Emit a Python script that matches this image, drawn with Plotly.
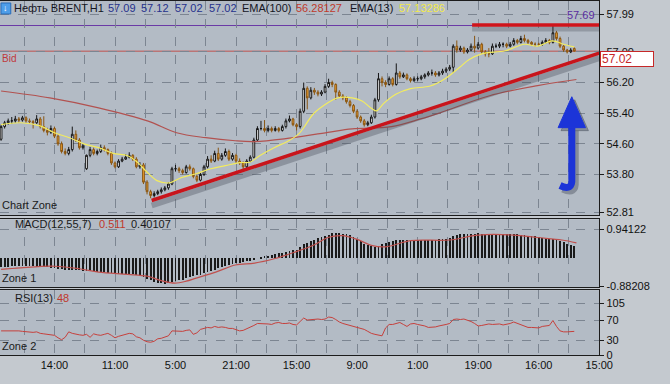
import plotly.graph_objects as go

# ---------------- data ----------------
opens = [54.72, 55.05, 55.15, 55.20, 55.20, 55.25, 55.22, 55.28, 55.20, 55.18,
         55.15, 55.25, 55.05, 54.95, 54.90, 55.00, 54.80, 54.60, 54.40, 54.35,
         54.45, 54.85, 54.70, 54.50, 53.95, 54.30, 54.45, 54.35, 54.40, 54.50,
         54.45, 54.35, 54.10, 54.00, 54.15, 54.20, 54.25, 54.30, 54.20, 54.00,
         54.05, 53.60, 53.35, 53.25, 53.30, 53.35, 53.40, 53.45, 53.55, 53.95,
         53.95, 53.90, 53.85, 54.00, 53.95, 53.75, 53.65, 53.80, 54.00, 54.20,
         54.15, 54.35, 54.20, 54.30, 54.40, 54.20, 54.30, 54.15, 54.10, 54.00,
         54.15, 54.25, 54.70, 55.00, 55.00, 54.95, 55.00, 54.95, 55.00, 54.95,
         55.05, 55.20, 55.25, 55.10, 55.05, 55.45, 56.05, 55.80, 56.00, 55.95,
         55.90, 55.95, 56.10, 56.20, 56.15, 55.95, 55.85, 55.80, 55.70, 55.60,
         55.45, 55.30, 55.20, 55.10, 55.15, 55.30, 55.75, 56.30, 56.20, 56.15,
         56.30, 56.15, 56.45, 56.35, 56.40, 56.30, 56.25, 56.30, 56.30, 56.35,
         56.40, 56.45, 56.45, 56.40, 56.45, 56.50, 56.55, 56.60, 57.15, 57.05,
         57.10, 57.00, 57.05, 57.15, 57.10, 57.20, 57.00, 56.95, 56.95, 57.15,
         57.15, 57.20, 57.20, 57.15, 57.20, 57.30, 57.25, 57.35, 57.30, 57.25,
         57.20, 57.20, 57.20, 57.25, 57.30, 57.25, 57.50, 57.35, 57.15, 57.05,
         57.00, 57.09]
highs = [55.10, 55.20, 55.26, 55.30, 55.33, 55.30, 55.33, 55.32, 55.26, 55.22,
         55.35, 55.30, 55.32, 55.02, 55.08, 55.05, 54.85, 54.66, 54.48, 54.52,
         55.05, 54.95, 54.75, 54.60, 54.32, 54.52, 54.50, 54.45, 54.58, 54.56,
         54.48, 54.40, 54.14, 54.20, 54.26, 54.33, 54.38, 54.33, 54.25, 54.12,
         54.10, 53.65, 53.40, 53.36, 53.40, 53.46, 53.50, 53.60, 54.00, 54.05,
         54.00, 53.95, 54.05, 54.06, 53.98, 53.80, 53.86, 54.05, 54.28, 54.30,
         54.42, 54.50, 54.36, 54.48, 54.45, 54.36, 54.34, 54.22, 54.14, 54.20,
         54.30, 54.76, 55.06, 55.20, 55.22, 55.08, 55.05, 55.06, 55.04, 55.10,
         55.26, 55.34, 55.28, 55.14, 55.52, 56.20, 56.10, 56.08, 56.06, 56.00,
         56.00, 56.16, 56.30, 56.25, 56.18, 56.00, 55.90, 55.84, 55.75, 55.64,
         55.50, 55.34, 55.25, 55.20, 55.36, 55.80, 56.45, 56.36, 56.26, 56.36,
         56.34, 56.70, 56.50, 56.46, 56.44, 56.34, 56.36, 56.36, 56.40, 56.44,
         56.50, 56.54, 56.50, 56.50, 56.56, 56.60, 56.66, 57.20, 57.30, 57.16,
         57.14, 57.10, 57.22, 57.42, 57.26, 57.24, 57.05, 57.10, 57.22, 57.22,
         57.26, 57.25, 57.24, 57.26, 57.36, 57.34, 57.42, 57.45, 57.34, 57.28,
         57.25, 57.24, 57.30, 57.36, 57.34, 57.69, 57.55, 57.40, 57.18, 57.08,
         57.10, 57.12]
lows = [54.68, 55.00, 55.10, 55.12, 55.15, 55.15, 55.18, 55.15, 55.12, 55.00,
        55.12, 55.00, 54.90, 54.82, 54.86, 54.75, 54.55, 54.35, 54.30, 54.30,
        54.40, 54.65, 54.45, 54.45, 53.92, 54.25, 54.30, 54.30, 54.36, 54.40,
        54.30, 54.05, 53.96, 53.97, 54.12, 54.18, 54.22, 54.15, 53.96, 53.95,
        53.55, 53.28, 53.18, 53.20, 53.26, 53.30, 53.36, 53.40, 53.52, 53.88,
        53.84, 53.80, 53.82, 53.90, 53.70, 53.60, 53.62, 53.76, 53.96, 54.10,
        54.12, 54.15, 54.16, 54.26, 54.15, 54.16, 54.10, 54.05, 53.92, 53.96,
        54.12, 54.22, 54.66, 54.95, 54.90, 54.90, 54.90, 54.92, 54.90, 54.92,
        55.00, 55.16, 55.06, 54.95, 55.00, 55.40, 55.50, 55.76, 55.88, 55.84,
        55.85, 55.92, 56.06, 56.08, 55.75, 55.80, 55.74, 55.65, 55.55, 55.40,
        55.25, 55.15, 55.05, 55.06, 55.12, 55.26, 55.70, 56.10, 56.08, 56.12,
        56.10, 56.12, 56.30, 56.32, 56.26, 56.20, 56.22, 56.24, 56.26, 56.30,
        56.36, 56.38, 56.35, 56.36, 56.40, 56.45, 56.50, 56.45, 56.98, 57.00,
        56.95, 56.96, 57.02, 56.98, 57.06, 56.95, 56.88, 56.86, 56.92, 57.10,
        57.10, 57.12, 57.10, 57.12, 57.16, 57.20, 57.22, 57.25, 57.20, 57.16,
        57.14, 57.15, 57.16, 57.22, 57.20, 57.22, 57.30, 57.10, 57.00, 56.96,
        56.97, 57.02]
closes = [55.05, 55.15, 55.20, 55.20, 55.25, 55.22, 55.28, 55.20, 55.18, 55.15,
          55.25, 55.05, 54.95, 54.90, 55.00, 54.80, 54.60, 54.40, 54.35, 54.45,
          54.85, 54.70, 54.50, 54.55, 54.30, 54.45, 54.35, 54.40, 54.50, 54.45,
          54.35, 54.10, 54.00, 54.15, 54.20, 54.25, 54.30, 54.20, 54.00, 54.05,
          53.60, 53.35, 53.25, 53.30, 53.35, 53.40, 53.45, 53.55, 53.95, 53.95,
          53.90, 53.85, 54.00, 53.95, 53.75, 53.65, 53.80, 54.00, 54.20, 54.15,
          54.35, 54.20, 54.30, 54.40, 54.20, 54.30, 54.15, 54.10, 54.00, 54.15,
          54.25, 54.70, 55.00, 55.00, 54.95, 55.00, 54.95, 55.00, 54.95, 55.05,
          55.20, 55.25, 55.10, 55.05, 55.45, 56.05, 55.80, 56.00, 55.95, 55.90,
          55.95, 56.10, 56.20, 56.15, 55.95, 55.85, 55.80, 55.70, 55.60, 55.45,
          55.30, 55.20, 55.10, 55.15, 55.30, 55.75, 56.30, 56.20, 56.15, 56.30,
          56.15, 56.45, 56.35, 56.40, 56.30, 56.25, 56.30, 56.30, 56.35, 56.40,
          56.45, 56.45, 56.40, 56.45, 56.50, 56.55, 56.60, 57.15, 57.05, 57.10,
          57.00, 57.05, 57.15, 57.10, 57.20, 57.00, 56.95, 56.95, 57.15, 57.15,
          57.20, 57.20, 57.15, 57.20, 57.30, 57.25, 57.35, 57.30, 57.25, 57.20,
          57.20, 57.20, 57.25, 57.30, 57.25, 57.50, 57.35, 57.15, 57.05, 57.00,
          57.05, 57.02]

ema13_x = [0, 5.5, 11, 15, 19.2, 23.3, 27.4, 31.5, 35.6, 38.4, 41.1, 43.8, 47.1,
           50.7, 54.8, 58.9, 63, 67.1, 69.9, 72.6, 76.7, 80.8, 83.6, 85, 87.7,
           91.8, 94.5, 98.6, 101.4, 104.1, 105.5, 107.4, 111, 115, 120.5, 124.7,
           128.8, 131.5, 135, 141.6, 147, 150.7, 154.8, 158, 161]
ema13_y = [55.10, 55.15, 55.07, 54.89, 54.76, 54.60, 54.50, 54.35, 54.29, 54.11,
           53.85, 53.64, 53.58, 53.72, 53.82, 53.95, 54.03, 54.11, 54.12, 54.29,
           54.50, 54.68, 54.86, 55.02, 55.38, 55.67, 55.80, 55.80, 55.72, 55.52,
           55.46, 55.65, 55.90, 56.04, 56.11, 56.30, 56.60, 56.80, 56.95, 57.03,
           57.20, 57.15, 57.29, 57.20, 57.13]
ema100_x = [0, 13.7, 27.4, 41.1, 49.3, 57.5, 65.8, 71.2, 79.5, 91.8, 98.6, 109.6,
            117.8, 123.3, 137, 150.7, 161.6]
ema100_y = [55.98, 55.80, 55.54, 55.20, 54.89, 54.76, 54.68, 54.66, 54.73, 54.90,
            54.99, 55.05, 55.25, 55.41, 55.85, 56.12, 56.28]

macd_hist = [-0.28, -0.27, -0.27, -0.26, -0.26, -0.25, -0.25, -0.25, -0.26, -0.26,
             -0.27, -0.27, -0.28, -0.29, -0.30,
             -0.31, -0.33, -0.35, -0.37, -0.38, -0.37, -0.37, -0.38, -0.40, -0.41,
             -0.41, -0.42, -0.43,
             -0.44, -0.45, -0.46, -0.48, -0.50, -0.50, -0.50, -0.50, -0.50, -0.51, -0.53,
             -0.56, -0.60, -0.66, -0.71, -0.75, -0.78, -0.80, -0.81, -0.80, -0.77,
             -0.74, -0.71, -0.68, -0.64, -0.61, -0.58, -0.55, -0.52, -0.48,
             -0.44, -0.40, -0.36, -0.32, -0.28, -0.25, -0.22, -0.19,
             -0.16, -0.14, -0.12, -0.10, -0.08, -0.04, 0.00,
             0.04, 0.07, 0.09, 0.12, 0.14, 0.16, 0.18, 0.21, 0.24, 0.26,
             0.28, 0.35, 0.45, 0.50, 0.55, 0.60, 0.64, 0.67, 0.71,
             0.76, 0.80, 0.81, 0.80, 0.79, 0.77, 0.74,
             0.68, 0.61, 0.54, 0.47, 0.42, 0.38, 0.36, 0.40,
             0.45, 0.50, 0.52, 0.55, 0.58, 0.58, 0.60, 0.60, 0.60,
             0.60, 0.59, 0.59, 0.59, 0.60, 0.60, 0.60, 0.61, 0.62, 0.63, 0.65,
             0.70, 0.74, 0.77, 0.78, 0.79, 0.79, 0.79, 0.80,
             0.79, 0.78, 0.78, 0.78, 0.78, 0.78, 0.78, 0.78, 0.78, 0.77, 0.77,
             0.76, 0.75, 0.73, 0.71, 0.70, 0.68, 0.66, 0.64,
             0.62, 0.62, 0.60, 0.56, 0.51, 0.46, 0.43, 0.40]
signal_x = [0, 5.5, 15, 22, 27.4, 35.6, 41, 45, 48.8, 52, 54.8, 60.3, 65.8, 71.2,
            76.7, 82.2, 87.7, 91.8, 95.9, 100, 104, 108, 115, 126, 134, 144, 150.7,
            157.5, 161.6]
signal_y = [-0.34, -0.29, -0.24, -0.32, -0.43, -0.50, -0.56, -0.70, -0.78, -0.72,
            -0.62, -0.43, -0.20, -0.14, 0.00, 0.20, 0.43, 0.68, 0.74, 0.62, 0.43,
            0.38, 0.58, 0.60, 0.76, 0.76, 0.68, 0.60, 0.51]

rsi = [49, 49, 49, 50, 49, 49, 48, 47, 47, 46,
       47, 44, 43, 42, 41, 40, 35, 31, 36, 47,
       44, 42, 41, 40, 42, 36, 43, 41, 40, 42,
       44, 40, 35, 38, 40, 42, 44, 43, 37, 35,
       30, 27, 26, 28, 33, 34, 36, 39, 49, 49,
       49, 48, 50, 51, 42, 45, 52, 54, 56, 55,
       58, 56, 57, 56, 54, 54, 52, 49, 50, 53,
       56, 60, 64, 64, 63, 63, 62, 65, 66, 64,
       64, 65, 62, 61, 68, 75, 71, 72, 72, 73,
       72, 73, 77, 76, 72, 67, 64, 62, 60, 58,
       57, 55, 52, 48, 44, 42, 40, 39, 55, 62,
       62, 64, 66, 62, 58, 63, 64, 62, 61, 59,
       56, 56, 57, 59, 60, 62, 64, 72, 73, 72,
       73, 71, 68, 64, 59, 60, 61, 63, 62, 62,
       63, 61, 62, 64, 67, 64, 61, 59, 56, 56,
       55, 55, 58, 59, 60, 70, 58, 49, 47, 47,
       47, 48]

support_x = [42.3, 168.0]
support_y = [53.12, 56.97]
resist_x = [132.3, 168.0]
resist_y = [57.70, 57.70]
bid_price = 57.02
high_price = 57.69

price_ticks = [57.99, 57.00, 56.20, 55.40, 54.60, 53.80, 52.81]
price_tick_text = ["57.99", "57.00", "56.20", "55.40", "54.60", "53.80", "52.81"]
macd_ticks = [0.94122, -0.88208]
macd_tick_text = ["0.94122", "-0.88208"]
rsi_ticks = [0, 30, 70, 105]
rsi_tick_text = ["0", "30", "70", "105"]
time_tick_vals = [15, 32, 49, 66, 83, 100, 117, 134, 151, 168]
time_tick_text = ["14:00", "11:00", "5:00", "21:00", "15:00", "9:00", "1:00", "19:00", "16:00", "15:00"]

# ---------------- figure ----------------
W, H = 670, 384
def px(x):
    return x / W
def py(y):
    return 1 - y / H

FONT = "Liberation Sans"
X_RANGE = [-0.3, 168.0]
XD = [0, 612 / W]
idx = list(range(len(closes)))

fig = go.Figure()

fig.add_trace(go.Scatter(x=ema100_x, y=ema100_y, mode="lines", xaxis="x", yaxis="y",
                         line=dict(color="#b25250", width=1.2, shape="spline"),
                         hoverinfo="skip", showlegend=False))
fig.add_trace(go.Candlestick(x=idx, open=opens, high=highs, low=lows, close=closes,
                             xaxis="x", yaxis="y", whiskerwidth=0,
                             increasing=dict(line=dict(color="#151515", width=1), fillcolor="#ffffff"),
                             decreasing=dict(line=dict(color="#8a5612", width=1), fillcolor="#f0a232"),
                             hoverinfo="skip", showlegend=False))
fig.add_trace(go.Scatter(x=ema13_x, y=ema13_y, mode="lines", xaxis="x", yaxis="y",
                         line=dict(color="#f3ec5e", width=1.2, shape="spline"),
                         hoverinfo="skip", showlegend=False))
# shadows of the drawn lines
fig.add_trace(go.Scatter(x=support_x, y=[v - 0.13 for v in support_y], mode="lines",
                         xaxis="x", yaxis="y", line=dict(color="rgba(70,75,85,0.35)", width=6),
                         hoverinfo="skip", showlegend=False))
fig.add_trace(go.Scatter(x=resist_x, y=[v - 0.1 for v in resist_y], mode="lines",
                         xaxis="x", yaxis="y", line=dict(color="rgba(70,75,85,0.3)", width=5),
                         hoverinfo="skip", showlegend=False))
fig.add_trace(go.Scatter(x=support_x, y=support_y, mode="lines", xaxis="x", yaxis="y",
                         line=dict(color="#c8141b", width=3.5), hoverinfo="skip", showlegend=False))
fig.add_trace(go.Scatter(x=resist_x, y=resist_y, mode="lines", xaxis="x", yaxis="y",
                         line=dict(color="#d0141b", width=3.5), hoverinfo="skip", showlegend=False))

fig.add_trace(go.Bar(x=idx, y=macd_hist, xaxis="x2", yaxis="y2", width=0.24,
                     marker=dict(color="#1a1a1a", line=dict(width=0)),
                     hoverinfo="skip", showlegend=False))
fig.add_trace(go.Scatter(x=signal_x, y=signal_y, mode="lines", xaxis="x2", yaxis="y2",
                         line=dict(color="#c0504d", width=1.2, shape="spline"),
                         hoverinfo="skip", showlegend=False))
fig.add_trace(go.Scatter(x=idx, y=rsi, mode="lines", xaxis="x3", yaxis="y3",
                         line=dict(color="#c6403c", width=1),
                         hoverinfo="skip", showlegend=False))

grid_vals = [6.5 + 8.5 * k for k in range(20)]
label_map = dict(zip(time_tick_vals, time_tick_text))
grid_text = [label_map.get(v, "") for v in grid_vals]

common_x = dict(domain=XD, range=X_RANGE, showgrid=True, gridcolor="#7c8591", griddash="dash",
                gridwidth=1, zeroline=False, showline=True, mirror=True, linecolor="#1c1c1c",
                linewidth=1, tickmode="array", tickvals=grid_vals, fixedrange=True)
common_y = dict(side="right", showgrid=True, gridcolor="#7c8591", griddash="dash", gridwidth=1,
                zeroline=False, showline=True, mirror=True, linecolor="#1c1c1c", linewidth=1,
                tickmode="array", ticks="outside", ticklen=4, tickcolor="#1c1c1c",
                tickfont=dict(family=FONT, size=11, color="#111111"), fixedrange=True,
                automargin=False)

fig.update_layout(
    width=W, height=H, margin=dict(l=0, r=0, t=0, b=0),
    paper_bgcolor="#c4c9cf", plot_bgcolor="#b3bbc5",
    font=dict(family=FONT, size=11, color="#111111"),
    showlegend=False, bargap=0,
    xaxis=dict(**common_x, anchor="y", showticklabels=False, rangeslider=dict(visible=False)),
    xaxis2=dict(**common_x, anchor="y2", showticklabels=False),
    xaxis3=dict(**common_x, anchor="y3", ticktext=grid_text, ticks="",
                tickfont=dict(family=FONT, size=11, color="#111111")),
    yaxis=dict(**common_y, anchor="x", domain=[py(215), 1], range=[52.73, 58.33],
               tickvals=price_ticks, ticktext=price_tick_text),
    yaxis2=dict(**common_y, anchor="x2", domain=[py(287), py(219)], range=[-0.914, 1.26],
                tickvals=macd_ticks, ticktext=macd_tick_text),
    yaxis3=dict(**common_y, anchor="x3", domain=[py(355), py(290)], range=[0, 131.3],
                tickvals=rsi_ticks, ticktext=rsi_tick_text),
)

# horizontal price lines
fig.add_shape(type="line", xref="x", yref="y", x0=X_RANGE[0], x1=X_RANGE[1],
              y0=bid_price, y1=bid_price, line=dict(color="#c0504d", width=1), layer="below")
fig.add_shape(type="line", xref="x", yref="y", x0=X_RANGE[0], x1=X_RANGE[1],
              y0=high_price, y1=high_price, line=dict(color="#6b3aa6", width=1), layer="below")

# blue arrow (shadow, shaft, head)
def arrow_paths(dx, dy):
    shaft = (f"M {px(584+dx)},{py(127+dy)} L {px(584+dx)},{py(178+dy)} "
             f"Q {px(585+dx)},{py(191+dy)} {px(572+dx)},{py(185+dy)}")
    head = (f"M {px(570+dx)},{py(127+dy)} L {px(598+dx)},{py(127+dy)} "
            f"L {px(584+dx)},{py(96+dy)} Z")
    return shaft, head

s_shaft, s_head = arrow_paths(3, 3)
fig.add_shape(type="path", xref="paper", yref="paper", path=s_shaft,
              line=dict(color="rgba(50,55,70,0.35)", width=8))
fig.add_shape(type="path", xref="paper", yref="paper", path=s_head,
              line=dict(color="rgba(50,55,70,0.35)", width=1), fillcolor="rgba(50,55,70,0.35)")
b_shaft, b_head = arrow_paths(0, 0)
fig.add_shape(type="path", xref="paper", yref="paper", path=b_shaft,
              line=dict(color="#1c34d8", width=7))
fig.add_shape(type="path", xref="paper", yref="paper", path=b_head,
              line=dict(color="#1c34d8", width=1), fillcolor="#1c34d8")

# header icon
fig.add_shape(type="rect", xref="paper", yref="paper", x0=px(1), x1=px(11), y0=py(13), y1=py(2),
              fillcolor="#4d9de8", line=dict(color="#2a6cb8", width=1))

texts = [
    (6, 7.5, "↓", "#ffffff", 9, "center"),
    (12, 7.5, "Нефть BRENT,H1", "#15151f", 11, "left"),
    (108, 7.5, "57.09", "#25318c", 11, "left"),
    (142, 7.5, "57.12", "#25318c", 11, "left"),
    (177, 7.5, "57.02", "#25318c", 11, "left"),
    (211, 7.5, "57.02", "#25318c", 11, "left"),
    (245, 7.5, "EMA(100)", "#15151f", 11, "left"),
    (300, 7.5, "56.28127", "#c0392b", 11, "left"),
    (355, 7.5, "EMA(13)", "#15151f", 11, "left"),
    (405, 7.5, "57.13286", "#f2ea4a", 11, "left"),
    (0, 58, "Bid", "#c0393b", 10, "left"),
    (610, 14, "57.69", "#5a2ca0", 11, "right"),
    (0, 205, "Chart Zone", "#1a1a1a", 11, "left"),
    (13, 224, "MACD(12,55,7)", "#1a1a1a", 11, "left"),
    (99, 224, "0.511", "#c0392b", 11, "left"),
    (132, 224, "0.40107", "#1a1a1a", 11, "left"),
    (0, 278, "Zone 1", "#1a1a1a", 11, "left"),
    (13, 298, "RSI(13)", "#1a1a1a", 11, "left"),
    (56, 298, "48", "#c0392b", 11, "left"),
    (0, 346, "Zone 2", "#1a1a1a", 11, "left"),
]
for x, y, t, c, s, a in texts:
    fig.add_annotation(xref="paper", yref="paper", x=px(x), y=py(y), text=t, showarrow=False,
                       xanchor=a, yanchor="middle", font=dict(family=FONT, size=s, color=c))

fig.add_annotation(xref="paper", yref="paper", x=px(613), y=py(58), text="57.02", showarrow=False,
                   xanchor="left", yanchor="middle", align="left", width=50, height=12,
                   bgcolor="#ffffff", bordercolor="#c62828", borderwidth=1, borderpad=1,
                   font=dict(family=FONT, size=12, color="#c62828"))

fig.write_html("out.html", config={"displayModeBar": False},
               post_script="document.body.style.margin='0';document.body.style.overflow='hidden';")
